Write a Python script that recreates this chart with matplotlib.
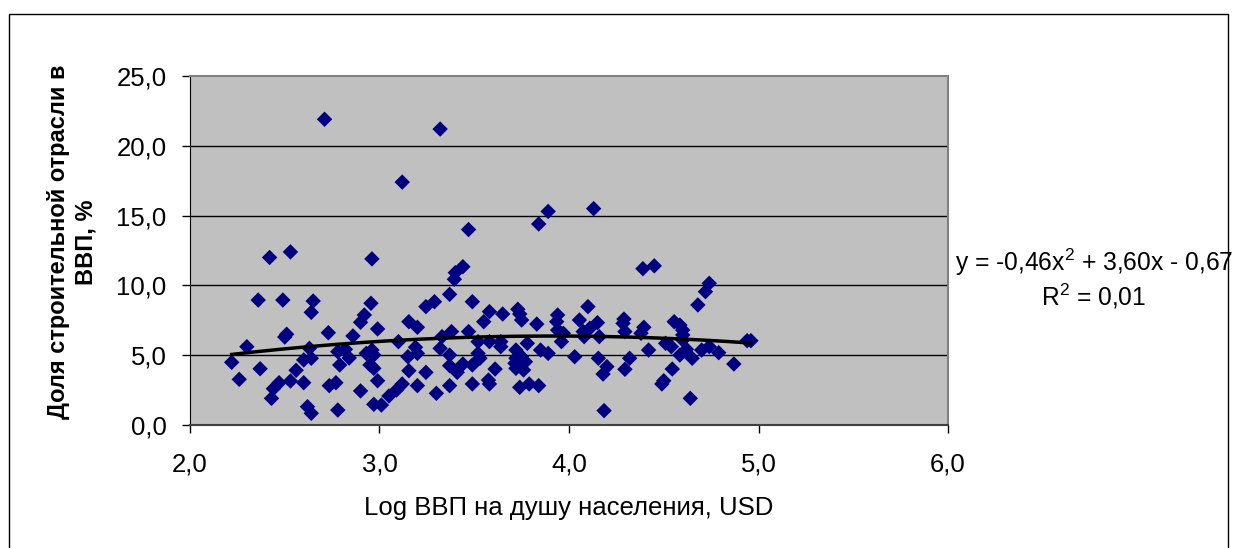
import numpy as np
import matplotlib.pyplot as plt
from matplotlib.patches import Rectangle

plt.rcParams['font.family'] = ['Liberation Sans', 'DejaVu Sans']
plt.rcParams['mathtext.fontset'] = 'custom'
plt.rcParams['mathtext.rm'] = 'Liberation Sans'

# Log GDP per capita (x) and construction share of GDP, % (y)
log_gdp = [
    2.71, 3.32, 3.12, 3.89, 4.13, 3.84, 3.47, 2.42, 2.53, 2.96,
    2.36, 2.49, 2.65, 2.64, 2.92, 2.90, 2.99, 2.51, 2.50, 2.73,
    2.86, 2.30, 2.22, 2.26, 2.37, 2.44, 2.43, 2.47, 2.53, 2.56,
    2.60, 2.60, 2.63, 2.64, 2.62, 2.64, 2.78, 2.735, 2.77, 2.79,
    2.78, 2.82, 2.84, 2.90, 2.93, 2.96, 2.97, 2.95, 2.97, 2.99,
    2.97, 2.955,
    3.44, 3.40, 3.395, 3.37, 3.49, 3.29, 3.245, 3.58, 3.65, 3.73,
    3.75, 3.74, 3.83, 3.94, 3.935, 3.94, 3.97, 3.96, 3.155, 3.20,
    3.10, 3.19, 3.20, 3.15, 3.33, 3.38, 3.32, 3.37, 3.37, 3.41,
    3.44, 3.49, 3.47, 3.52, 3.52, 3.53, 3.55, 3.58, 3.64, 3.64,
    3.61, 3.575, 3.58, 3.49, 3.37, 3.30, 3.245, 3.20, 3.155, 3.12,
    3.09, 3.05, 3.01, 3.72, 3.72, 3.75, 3.74, 3.715, 3.77, 3.72,
    3.76, 3.78, 3.85, 3.89, 3.74, 3.79, 3.84, 4.03,
    4.39, 4.45, 4.74, 4.72, 4.68, 4.10, 4.055, 4.15, 4.11, 4.075,
    4.08, 4.16, 4.29, 4.285, 4.295, 4.395, 4.38, 4.42, 4.155, 4.32,
    4.20, 4.18, 4.295, 4.185, 4.49, 4.50, 4.545, 4.64, 4.555, 4.585,
    4.60, 4.60, 4.51, 4.54, 4.585, 4.62, 4.65, 4.70, 4.74, 4.79,
    4.87, 4.94, 4.96, 4.60,
]
share = [
    21.9, 21.2, 17.4, 15.3, 15.5, 14.4, 14.0, 12.0, 12.4, 11.9,
    8.95, 8.95, 8.88, 8.07, 7.88, 7.36, 6.88, 6.5, 6.3, 6.61,
    6.38, 5.61, 4.49, 3.27, 4.03, 2.60, 1.91, 3.03, 3.15, 3.92,
    3.03, 4.66, 5.49, 4.78, 1.31, 0.84, 1.07, 2.82, 3.03, 4.30,
    5.25, 5.42, 4.80, 2.44, 5.13, 5.37, 5.01, 4.30, 4.06, 3.17,
    1.48, 8.72,
    11.34, 10.91, 10.44, 9.36, 8.83, 8.83, 8.48, 8.12, 7.95, 8.29,
    7.52, 7.95, 7.23, 7.88, 7.40, 6.80, 6.57, 5.97, 7.40, 7.00,
    5.97, 5.57, 5.13, 4.89, 6.33, 6.69, 5.49, 5.01, 4.25, 3.77,
    4.37, 4.30, 6.69, 5.97, 5.13, 4.78, 7.40, 5.97, 5.97, 5.61,
    4.01, 3.22, 2.94, 2.94, 2.82, 2.27, 3.77, 2.82, 3.89, 2.94,
    2.51, 2.08, 1.43, 5.37, 4.78, 4.89, 4.42, 4.42, 4.53, 4.06,
    3.94, 5.85, 5.37, 5.13, 2.70, 2.94, 2.82, 4.89,
    11.2, 11.4, 10.15, 9.55, 8.6, 8.48, 7.52, 7.33, 6.93, 6.69,
    6.33, 6.33, 7.59, 7.28, 6.69, 7.00, 6.57, 5.37, 4.78, 4.78,
    4.18, 3.65, 3.99, 1.03, 2.94, 3.17, 4.01, 1.91, 7.40, 7.16,
    6.80, 6.45, 5.85, 5.61, 5.01, 5.42, 4.78, 5.37, 5.61, 5.18,
    4.37, 6.04, 6.04, 6.09,
]

# polynomial trendline shown on the chart: y = a*x^2 + b*x + c
trend_coef = [-0.46, 3.60, -0.67]
x_ticks = [2.0, 3.0, 4.0, 5.0, 6.0]
y_ticks = [0.0, 5.0, 10.0, 15.0, 20.0, 25.0]

fig = plt.figure(figsize=(12.34, 5.48), dpi=100)
ax = fig.add_axes([190 / 1234, 1 - 425 / 548, 758 / 1234, 349 / 548])
ax.set_facecolor('#C0C0C0')

for yv in y_ticks[1:-1]:
    ax.axhline(yv, color='black', lw=1.0, zorder=1)

ax.scatter(log_gdp, share, marker='D', s=62, color='#000080',
           edgecolors='none', zorder=3)

xt = np.linspace(min(log_gdp), max(log_gdp), 200)
ax.plot(xt, np.polyval(trend_coef, xt), color='black', lw=2.5, zorder=4)

ax.set_xlim(2.0, 6.0)
ax.set_ylim(0.0, 25.0)
ax.set_xticks(x_ticks)
ax.set_yticks(y_ticks)
ax.set_xticklabels([f'{v:.1f}'.replace('.', ',') for v in x_ticks], fontsize=18.5)
ax.set_yticklabels([f'{v:.1f}'.replace('.', ',') for v in y_ticks], fontsize=18.5)
ax.tick_params(axis='both', direction='out', length=6, width=1, color='black')
ax.tick_params(axis='y', pad=11)
ax.tick_params(axis='x', pad=14)

for side in ['top', 'right']:
    ax.spines[side].set_color('#808080')
    ax.spines[side].set_linewidth(1.5)
ax.spines['left'].set_color('black')
ax.spines['bottom'].set_color('#404040')
ax.spines['bottom'].set_linewidth(1.5)

fig.text(72 / 1234, 1 - 242 / 548, 'Доля строительной отрасли в\nВВП, %',
         rotation=90, ha='center', va='center', fontsize=17,
         fontweight='bold', linespacing=1.27)
fig.text(569 / 1234, 1 - 508 / 548, 'Log ВВП на душу населения, USD',
         ha='center', va='center', fontsize=18.5)
fig.text(1094 / 1234, 1 - 262 / 548, r'y = -0,46x$^{\mathrm{2}}$ + 3,60x - 0,67',
         ha='center', va='center', fontsize=17.7)
fig.text(1094 / 1234, 1 - 296 / 548, r'R$^{\mathrm{2}}$ = 0,01',
         ha='center', va='center', fontsize=17.7)

# outer chart border
fig.patches.append(Rectangle((9 / 1234, -0.05), 1219 / 1234, 1 - 14 / 548 + 0.05,
                             transform=fig.transFigure, fill=False,
                             edgecolor='black', lw=1.0))

fig.savefig('out.png', dpi=100)
